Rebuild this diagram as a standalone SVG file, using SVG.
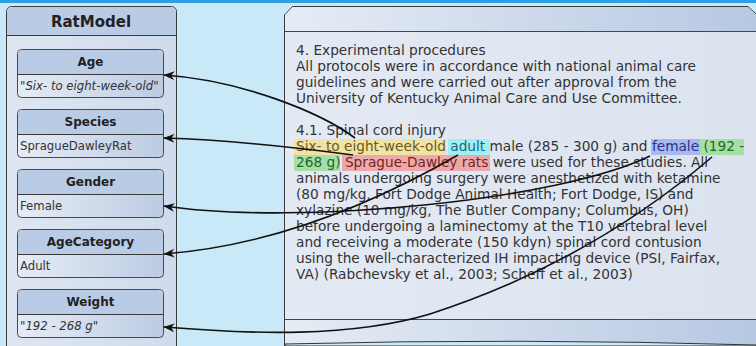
<svg xmlns="http://www.w3.org/2000/svg" width="756" height="346" viewBox="0 0 756 346">
  <defs>
    <linearGradient id="hdr" x1="0" y1="0" x2="1" y2="0">
      <stop offset="0" stop-color="#e6ecf5"/>
      <stop offset="1" stop-color="#b7c8e2"/>
    </linearGradient>
    <linearGradient id="val" x1="0" y1="0" x2="1" y2="0">
      <stop offset="0" stop-color="#e6ecf5"/>
      <stop offset="1" stop-color="#bccbe3"/>
    </linearGradient>
    <linearGradient id="body" x1="0" y1="0" x2="1" y2="0">
      <stop offset="0" stop-color="#e4eaf4"/>
      <stop offset="1" stop-color="#dbe3ef"/>
    </linearGradient>
    <linearGradient id="pbody" x1="0" y1="0" x2="1" y2="0">
      <stop offset="0" stop-color="#dfe6f1"/>
      <stop offset="1" stop-color="#cfdbec"/>
    </linearGradient>
    <marker id="arrow" viewBox="0 0 10 8" refX="9.5" refY="4" markerWidth="11" markerHeight="9" markerUnits="userSpaceOnUse" orient="auto">
      <path d="M0,0 L10,4 L0,8 L3,4 z" fill="#111"/>
    </marker>
  </defs>
  <style>
    .panel { stroke: #3a3a3a; stroke-width: 1; }
    .node rect.frame { fill: url(#val); stroke: #4a4a4a; stroke-width: 1; }
    .node path.head { fill: #b9cbe5; }
    .node line { stroke: #3a3a3a; stroke-width: 1; }
    .title { font-family: "DejaVu Sans", sans-serif; font-weight: bold; font-size: 12px; fill: #222; text-anchor: middle; }
    .value { font-family: "DejaVu Sans", sans-serif; font-size: 11.7px; fill: #333; }
    .it { font-style: italic; }
    .doc { font-family: "DejaVu Sans", sans-serif; font-size: 13.7px; fill: #333; }
    .conn path { fill: none; stroke: #111; stroke-width: 1.6; marker-end: url(#arrow); }
  </style>

  <!-- background and top strip -->
  <rect x="0" y="0" width="756" height="346" fill="#c9e8f8"/>
  <rect x="0" y="0" width="756" height="3" fill="#2e9fe0"/>

  <!-- RatModel container -->
  <g id="RatModel">
    <rect class="panel" x="6.5" y="6.5" width="170" height="352" rx="5" fill="url(#pbody)"/>
    <path d="M7,35 V11.5 Q7,7 11.5,7 H171.5 Q176,7 176,11.5 V35 Z" fill="#b9cbe5"/>
    <line x1="6.5" y1="35.5" x2="176.5" y2="35.5" stroke="#3a3a3a"/>
    <text x="91" y="27" font-family="DejaVu Sans, sans-serif" font-weight="bold" font-size="15" fill="#222" text-anchor="middle">RatModel</text>
  </g>

  <g id="Age" class="node">
    <rect class="frame" x="17.5" y="49.5" width="146" height="48" rx="4"/>
    <path class="head" d="M18,74 V53.5 Q18,50 21.5,50 H159.5 Q163,50 163,53.5 V74 Z"/>
    <line x1="17.5" y1="74.5" x2="163.5" y2="74.5"/>
    <text class="title" x="90.5" y="66">Age</text>
    <text class="value it" x="20" y="90">"Six- to eight-week-old"</text>
  </g>

  <g id="Species" class="node">
    <rect class="frame" x="17.5" y="109.5" width="146" height="48" rx="4"/>
    <path class="head" d="M18,134 V113.5 Q18,110 21.5,110 H159.5 Q163,110 163,113.5 V134 Z"/>
    <line x1="17.5" y1="134.5" x2="163.5" y2="134.5"/>
    <text class="title" x="90.5" y="126">Species</text>
    <text class="value" x="20" y="150">SpragueDawleyRat</text>
  </g>

  <g id="Gender" class="node">
    <rect class="frame" x="17.5" y="169.5" width="146" height="48" rx="4"/>
    <path class="head" d="M18,194 V173.5 Q18,170 21.5,170 H159.5 Q163,170 163,173.5 V194 Z"/>
    <line x1="17.5" y1="194.5" x2="163.5" y2="194.5"/>
    <text class="title" x="90.5" y="186">Gender</text>
    <text class="value" x="20" y="210">Female</text>
  </g>

  <g id="AgeCategory" class="node">
    <rect class="frame" x="17.5" y="229.5" width="146" height="48" rx="4"/>
    <path class="head" d="M18,254 V233.5 Q18,230 21.5,230 H159.5 Q163,230 163,233.5 V254 Z"/>
    <line x1="17.5" y1="254.5" x2="163.5" y2="254.5"/>
    <text class="title" x="90.5" y="246">AgeCategory</text>
    <text class="value" x="20" y="270">Adult</text>
  </g>

  <g id="Weight" class="node">
    <rect class="frame" x="17.5" y="289.5" width="146" height="48" rx="4"/>
    <path class="head" d="M18,314 V293.5 Q18,290 21.5,290 H159.5 Q163,290 163,293.5 V314 Z"/>
    <line x1="17.5" y1="314.5" x2="163.5" y2="314.5"/>
    <text class="title" x="90.5" y="306">Weight</text>
    <text class="value it" x="20" y="330">"192 - 268 g"</text>
  </g>

  <!-- document panel -->
  <g id="Document">
    <path class="panel" d="M284.5,15 L292.5,6.5 H748 L757,15 V350 H284.5 Z" fill="url(#body)"/>
    <path d="M285,31 V15.2 L292.7,7 H747.8 L756,15.2 V31 Z" fill="url(#hdr)"/>
    <line x1="284.5" y1="31.5" x2="756" y2="31.5" stroke="#444"/>
    <rect x="285" y="320" width="471" height="26" fill="url(#hdr)"/>
    <line x1="284.5" y1="319.5" x2="756" y2="319.5" stroke="#444"/>
    <path d="M285,344 Q520,338 756,345 V346 H285 Z" fill="#c9e8f8" stroke="#333" stroke-width="1"/>
    <line x1="284.5" y1="15" x2="284.5" y2="346" stroke="#3a3a3a"/>

    <!-- highlighted annotations -->
    <rect x="294" y="139" width="152" height="16" fill="#f1e3a4"/>
    <rect x="448" y="139" width="42" height="16" fill="#a2eef5"/>
    <rect x="651" y="139" width="49" height="16" fill="#a9b9ef"/>
    <rect x="700" y="139" width="44" height="16" fill="#a6dea6"/>
    <rect x="294" y="155" width="46" height="16" fill="#a6dea6"/>
    <rect x="342" y="155" width="148" height="16" fill="#eba9a9"/>

    <text class="doc" x="296" y="55">4. Experimental procedures</text>
    <text class="doc" x="296" y="71">All protocols were in accordance with national animal care</text>
    <text class="doc" x="296" y="87">guidelines and were carried out after approval from the</text>
    <text class="doc" x="296" y="103">University of Kentucky Animal Care and Use Committee.</text>
    <text class="doc" x="296" y="135">4.1. Spinal cord injury</text>
    <text class="doc" x="296" y="151"><tspan fill="#6b5a1c">Six- to eight-week-old</tspan> <tspan fill="#1b6676">adult</tspan> male (285 - 300 g) and <tspan fill="#24348a">female</tspan> <tspan fill="#1d6a28">(192 -</tspan></text>
    <text class="doc" x="296" y="167"><tspan fill="#1d6a28">268 g)</tspan> <tspan fill="#7a2222">Sprague-Dawley rats</tspan> were used for these studies. All</text>
    <text class="doc" x="296" y="183">animals undergoing surgery were anesthetized with ketamine</text>
    <text class="doc" x="296" y="199">(80 mg/kg, Fort Dodge Animal Health; Fort Dodge, IS) and</text>
    <text class="doc" x="296" y="215">xylazine (10 mg/kg, The Butler Company; Columbus, OH)</text>
    <text class="doc" x="296" y="231">before undergoing a laminectomy at the T10 vertebral level</text>
    <text class="doc" x="296" y="247">and receiving a moderate (150 kdyn) spinal cord contusion</text>
    <text class="doc" x="296" y="263">using the well-characterized IH impacting device (PSI, Fairfax,</text>
    <text class="doc" x="296" y="279">VA) (Rabchevsky et al., 2003; Scheff et al., 2003)</text>
  </g>

  <!-- annotation links -->
  <g id="connectors" class="conn">
    <path d="M355,138 C320,112 240,80 164,75"/>
    <path d="M353,155 C300,148 230,140 164,138"/>
    <path d="M650,156 C560,200 300,226 164,206"/>
    <path d="M458,155 C380,200 280,245 164,254"/>
    <path d="M712,157 C650,210 560,272 430,314 C350,338 250,334 164,327"/>
  </g>
</svg>
